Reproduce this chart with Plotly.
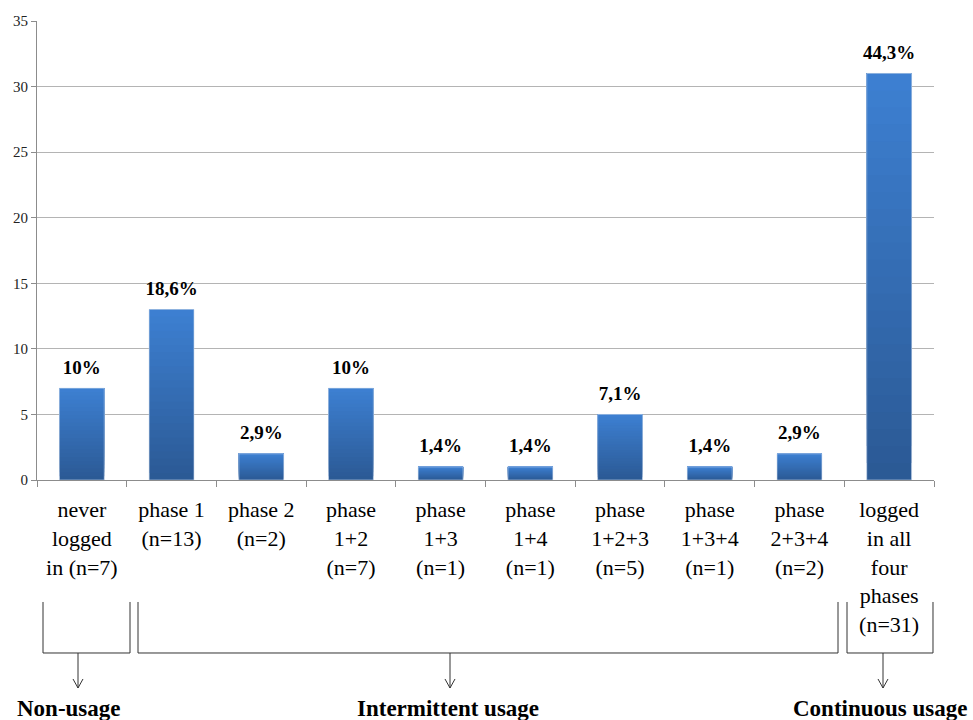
import plotly.graph_objects as go

categories = [
    "never<br>logged<br>in (n=7)",
    "phase 1<br>(n=13)",
    "phase 2<br>(n=2)",
    "phase<br>1+2<br>(n=7)",
    "phase<br>1+3<br>(n=1)",
    "phase<br>1+4<br>(n=1)",
    "phase<br>1+2+3<br>(n=5)",
    "phase<br>1+3+4<br>(n=1)",
    "phase<br>2+3+4<br>(n=2)",
    "logged<br>in all<br>four<br>phases<br>(n=31)",
]
counts = [7, 13, 2, 7, 1, 1, 5, 1, 2, 31]
pct_labels = ["10%", "18,6%", "2,9%", "10%", "1,4%", "1,4%", "7,1%", "1,4%", "2,9%", "44,3%"]
y_ticks = [0, 5, 10, 15, 20, 25, 30, 35]

groups = ["Non-usage", "Intermittent usage", "Continuous usage"]

SERIF = "Liberation Serif, Times New Roman, serif"
W, H = 973, 720
L, R, T, B = 37, 934, 21, 480

fig = go.Figure()

# gradient bars: overlaid layers, dark at bottom, light at top
N = 24
top_rgb = (61, 128, 210)
bot_rgb = (43, 89, 148)
for k in range(N):
    f = (k + 0.5) / N
    c = tuple(int(round(bot_rgb[i] + (top_rgb[i] - bot_rgb[i]) * f)) for i in range(3))
    fig.add_trace(go.Bar(
        x=categories,
        y=[v * (N - k) / N for v in counts],
        base=[v * k / N for v in counts],
        marker=dict(color="rgb(%d,%d,%d)" % c, line=dict(width=0)),
        width=0.5,
        hoverinfo="skip",
        showlegend=False,
    ))

fig.add_trace(go.Bar(
    x=categories,
    y=counts,
    width=0.5,
    marker=dict(color="rgba(0,0,0,0)", line=dict(color="rgba(200,215,235,0.6)", width=1)),
    hoverinfo="skip",
    showlegend=False,
))

# percentage labels above bars
fig.add_trace(go.Scatter(
    x=categories,
    y=counts,
    mode="markers+text",
    marker=dict(size=14, opacity=0),
    text=["<b>%s</b>" % t for t in pct_labels],
    textposition="top center",
    textfont=dict(family=SERIF, size=19, color="black"),
    cliponaxis=False,
    hoverinfo="skip",
    showlegend=False,
))


def px(x):
    return (x - L) / (R - L)


def py(y):
    return (B - y) / (B - T)


shapes = []
line = dict(color="#333333", width=1)
brackets = [(43, 130, 78), (138, 838, 450), (847, 933, 883)]
for x0, x1, xa in brackets:
    path = "M %f %f L %f %f L %f %f L %f %f" % (
        px(x0), py(602), px(x0), py(653), px(x1), py(653), px(x1), py(602))
    shapes.append(dict(type="path", xref="paper", yref="paper", path=path, line=line))
    shapes.append(dict(type="line", xref="paper", yref="paper",
                       x0=px(xa), x1=px(xa), y0=py(653), y1=py(688), line=line))
    arrow = "M %f %f L %f %f L %f %f" % (
        px(xa - 5), py(679), px(xa), py(688), px(xa + 5), py(679))
    shapes.append(dict(type="path", xref="paper", yref="paper", path=arrow, line=line))

annotations = []
label_pos = [69, 448, 880]
for g, xc in zip(groups, label_pos):
    annotations.append(dict(
        x=px(xc), y=py(708), xref="paper", yref="paper",
        text="<b>%s</b>" % g, showarrow=False,
        font=dict(family=SERIF, size=23, color="black"),
        xanchor="center", yanchor="middle",
    ))

fig.update_layout(
    width=W, height=H,
    margin=dict(l=L, r=W - R, t=T, b=H - B, pad=0),
    paper_bgcolor="white",
    plot_bgcolor="white",
    barmode="overlay",
    bargap=0.5,
    shapes=shapes,
    annotations=annotations,
    font=dict(family=SERIF, color="black"),
)
fig.update_xaxes(
    type="category",
    range=[-0.5, len(categories) - 0.5],
    showline=True, linecolor="#8c8c8c", linewidth=1,
    ticks="outside", tickson="boundaries", ticklen=6, tickcolor="#8c8c8c",
    tickfont=dict(family=SERIF, size=22, color="black"),
    ticklabelstandoff=10,
    showgrid=False,
)
fig.update_yaxes(
    range=[0, 35],
    tickvals=y_ticks,
    showline=True, linecolor="#8c8c8c", linewidth=1,
    ticks="outside", ticklen=5, tickcolor="#8c8c8c",
    tickfont=dict(family=SERIF, size=15, color="#222222"),
    showgrid=True, gridcolor="#b4b4b4", gridwidth=1,
    zeroline=False,
)

fig.write_html(
    "out.html",
    config={"displayModeBar": False},
    post_script="document.body.style.margin='0';document.body.style.overflow='hidden';",
)
